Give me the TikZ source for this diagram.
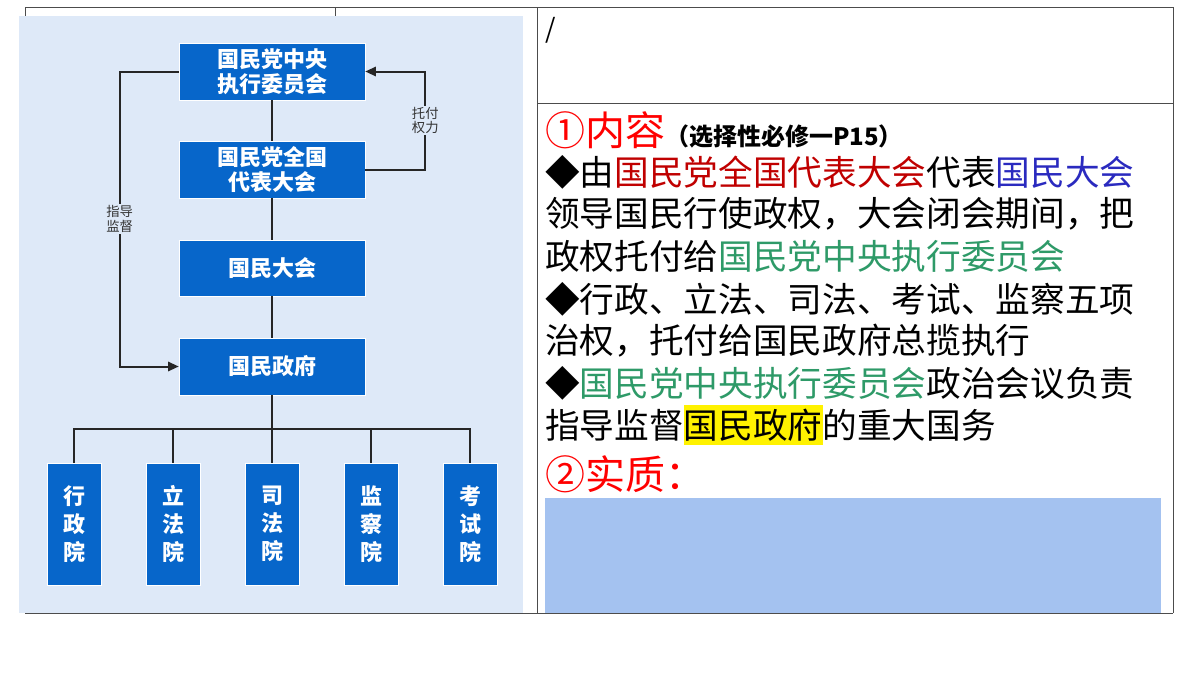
\documentclass[tikz,border=0pt]{standalone}
\usepackage{fontspec}
\setmainfont{Noto Sans CJK SC}
\usetikzlibrary{arrows.meta}
\definecolor{panelblue}{HTML}{DEE9F8}
\definecolor{boxblue}{HTML}{0766CA}
\definecolor{fillblue}{HTML}{A4C2F0}
\definecolor{darkred}{HTML}{C00000}
\definecolor{navy}{HTML}{2A2ABF}
\definecolor{jade}{HTML}{2E9A68}
\begin{document}
\begin{tikzpicture}[x=0.75pt,y=-0.75pt,
  orgbox/.style={draw=white,fill=boxblue,text=white,font=\fontsize{16.5}{19}\selectfont\bfseries,inner sep=0pt,align=center},
  branchbox/.style={orgbox,minimum width=40.5pt,minimum height=91.5pt,font=\fontsize{16.5}{21}\selectfont\bfseries},
  linklabel/.style={fill=panelblue,font=\fontsize{10}{11}\selectfont,inner sep=1pt,align=center,text=black!80},
  link/.style={draw=black!85,line width=1.5pt},
  bodytext/.style={anchor=west,inner sep=0pt,font=\fontsize{26}{30}\selectfont}]
  \useasboundingbox (0,0) rectangle (1200,675);
  \fill[white] (0,0) rectangle (1200,675);
  % table lines
  \draw[black!70] (25,7) -- (1173,7);
  \draw[black!70] (25,7) -- (25,16);
  \draw[black!70] (335,7) -- (335,16);
  \draw[black!70] (537,7) -- (537,613);
  \draw[black!70] (1173,7) -- (1173,613);
  \draw[black!70] (537,103) -- (1173,103);
  \draw[black!70] (25,613) -- (1173,613);
  % left panel
  \fill[panelblue] (19,16) rectangle (523,613);
  \node[orgbox,minimum width=139.5pt,minimum height=42.75pt] (cec) at (272,71.5) {国民党中央\\执行委员会};
  \node[orgbox,minimum width=139.5pt,minimum height=42.75pt] (congress) at (272,169.5) {国民党全国\\代表大会};
  \node[orgbox,minimum width=139.5pt,minimum height=42pt] (assembly) at (272,268) {国民大会};
  \node[orgbox,minimum width=139.5pt,minimum height=42.75pt] (gov) at (272,366.5) {国民政府};
  \node[branchbox] (b1) at (74,524) {行\\政\\院};
  \node[branchbox] (b2) at (173,524) {立\\法\\院};
  \node[branchbox] (b3) at (272,524) {司\\法\\院};
  \node[branchbox] (b4) at (371,524) {监\\察\\院};
  \node[branchbox] (b5) at (470,524) {考\\试\\院};
  \coordinate (bus) at (272,429);
  \draw[link] (cec) -- (congress);
  \draw[link] (congress) -- (assembly);
  \draw[link] (assembly) -- (gov);
  \draw[link] (gov) -- (bus);
  \draw[link] (b1.north) |- (bus) -| (b5.north);
  \foreach \b in {b2,b3,b4} \draw[link] (\b.north) -- (\b.north |- bus);
  \draw[link,-{Triangle[length=8pt,width=7pt]}] (cec.west) -- ++(-59,0) |- (gov.west)
    node[linklabel,pos=0.25] {指导\\监督};
  \draw[link,-{Triangle[length=8pt,width=7pt]}] (congress.east) -- ++(60,0) |- (cec.east)
    node[linklabel,pos=0.25] {托付\\权力};
  % right text
  \node[anchor=west,inner sep=0pt] (slash) at (545,30) {\fontsize{20}{22}\selectfont /};
  \node[bodytext] (t1) at (545,130) {\textcolor{red}{\fontsize{30}{34}\selectfont ①内容}\fontsize{18}{20}\selectfont\bfseries（选择性必修一P15）};
  \node[bodytext] (t2) at (545,172) {◆由\textcolor{darkred}{国民党全国代表大会}代表\textcolor{navy}{国民大会}};
  \node[bodytext] (t3) at (545,214) {领导国民行使政权，大会闭会期间，把};
  \node[bodytext] (t4) at (545,256) {政权托付给\textcolor{jade}{国民党中央执行委员会}};
  \node[bodytext] (t5) at (545,299) {◆行政、立法、司法、考试、监察五项};
  \node[bodytext] (t6) at (545,341) {治权，托付给国民政府总揽执行};
  \node[bodytext] (t7) at (545,383) {◆\textcolor{jade}{国民党中央执行委员会}政治会议负责};
  \node[bodytext] (t8) at (545,425) {指导监督\colorbox{yellow}{\hspace{-3pt}国民政府\hspace{-3pt}}的重大国务};
  \node[bodytext,text=red,font=\fontsize{30}{34}\selectfont] (t9) at (545,474) {②实质：};
  \fill[fillblue] (545,498) rectangle (1161,613);
\end{tikzpicture}
\end{document}
